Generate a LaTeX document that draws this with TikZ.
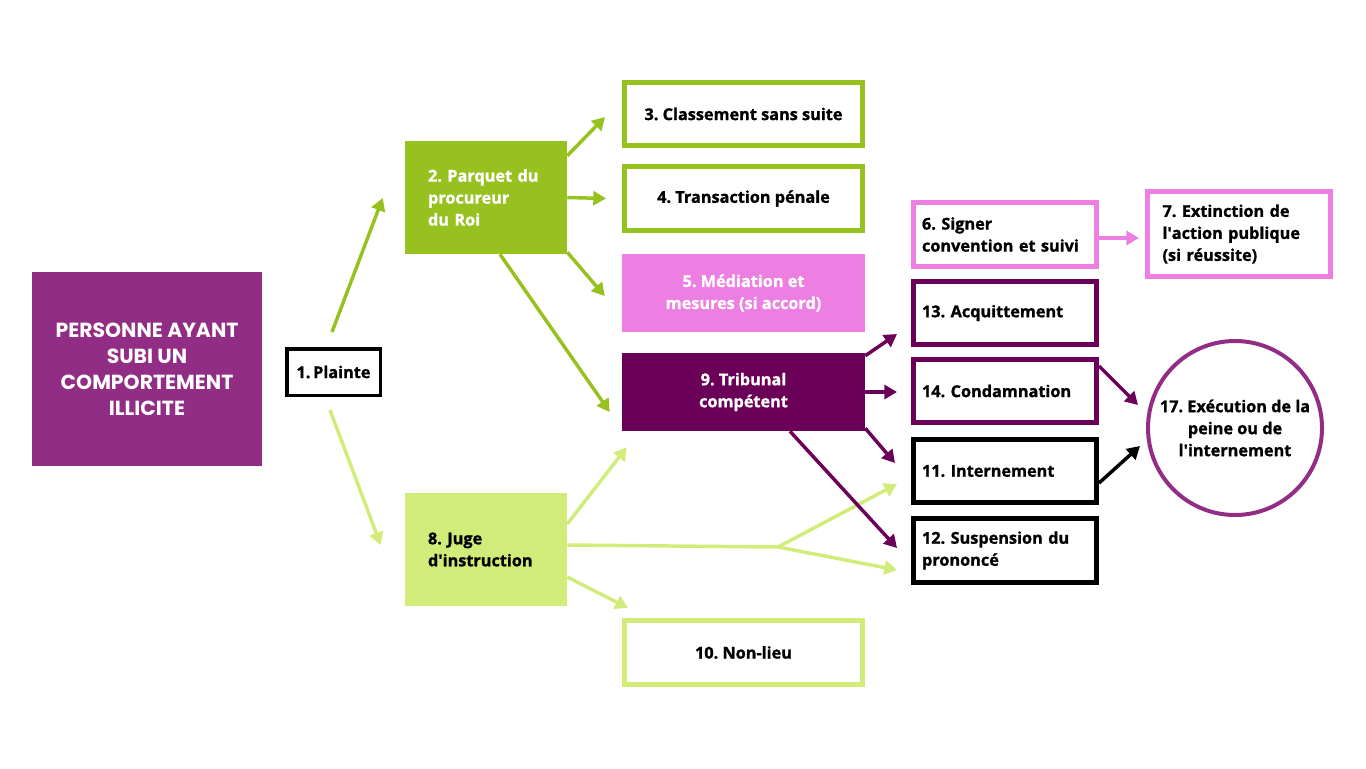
\documentclass[tikz,border=0pt]{standalone}
\usepackage{fontspec}
\setmainfont{Open Sans}[BoldFont={Open Sans Bold}, BoldFeatures={FakeBold=1.2}]
\newfontfamily\titlefont{Poppins}
\usetikzlibrary{arrows.meta,calc,positioning}
\newlength\px
\setlength\px{0.75pt}
\frenchspacing
\definecolor{titlepurple}{HTML}{922D86}
\definecolor{pgreen}{HTML}{97C11F}
\definecolor{lgreen}{HTML}{D2EC7A}
\definecolor{ppink}{HTML}{EE7FE2}
\definecolor{dpurple}{HTML}{6A0057}
\tikzset{
  x=0.75pt, y=-0.75pt,
  txt/.style={font=\bfseries\fontsize{12.2}{16.5}\selectfont},
  bigbox/.style={txt, minimum width=243\px, minimum height=68\px, inner sep=0pt, align=center},
  sidebox/.style={txt, text width=166\px, inner xsep=8.5\px, inner ysep=0pt, minimum height=68\px, align=left},
  arr/.style={line width=2.6pt, -{Triangle[length=9.5pt,width=10.5pt]}},
}
\begin{document}
\begin{tikzpicture}
\useasboundingbox (0,0) rectangle (1366,768);
% nodes
\node[fill=titlepurple, minimum width=230\px, minimum height=194\px, text=white, align=center,
  font=\titlefont\bfseries\fontsize{15.3}{19.5}\selectfont] (pers) at (147,369)
  {PERSONNE AYANT\\SUBI UN\\COMPORTEMENT\\ILLICITE};
\node[txt, draw=black, line width=3.5\px, minimum width=93.5\px, minimum height=46.5\px, inner sep=0pt] (plainte) at (333.5,372) {1.\,Plainte};
\node[txt, fill=pgreen, text=white, text width=116\px, inner xsep=23\px, minimum height=113\px, align=left] (parq) at (486,197.5) {2. Parquet du\\procureur\\du Roi};
\node[bigbox, draw=pgreen, line width=5\px, minimum width=238\px, minimum height=63\px] (b3) at (743.5,114) {3. Classement sans suite};
\node[bigbox, draw=pgreen, line width=5\px, minimum width=238\px, minimum height=64\px] (b4) at (743.5,198.5) {4. Transaction pénale};
\node[bigbox, fill=ppink, text=white, minimum height=78\px] (b5) at (743.5,293) {5. Médiation et\\mesures (si accord)};
\node[bigbox, fill=dpurple, text=white, minimum height=78\px] (b9) at (743.5,392) {9. Tribunal\\compétent};
\node[txt, fill=lgreen, text=black, text width=116\px, inner xsep=23\px, minimum height=113\px, align=left] (juge) at (486,549.5) {8. Juge\\d\textquotesingle instruction};
\node[bigbox, draw=lgreen, line width=5\px, minimum width=238\px, minimum height=64\px] (b10) at (743.5,652.5) {10. Non-lieu};
\node[sidebox, draw=ppink, line width=5\px, minimum height=64\px] (b6) at (1005,234.5) {6. Signer\\convention et suivi};
\node[sidebox, draw=ppink, line width=5\px, text width=153\px, inner xsep=15\px, minimum height=85\px] (b7) at (1239,234) {7. Extinction de\\l\textquotesingle action publique\\(si réussite)};
\node[sidebox, draw=dpurple, line width=5\px, minimum height=63\px] (b13) at (1005,313) {13. Acquittement};
\node[sidebox, draw=dpurple, line width=5\px, minimum height=63\px] (b14) at (1005,391) {14. Condamnation};
\node[sidebox, draw=black, line width=5\px, minimum height=63\px] (b11) at (1005,471) {11. Internement};
\node[sidebox, draw=black, line width=5\px, minimum height=64\px] (b12) at (1005,550.5) {12. Suspension du\\prononcé};
\node[txt, circle, draw=titlepurple, line width=4\px, minimum size=174\px, inner sep=0pt, align=center] (c17) at (1235,428) {17. Exécution de la\\peine ou de\\l\textquotesingle internement};
% connectors
\draw[arr, pgreen] ($(plainte.north)+(-1.5,-15)$) -- ($(parq.west)+(-22,0.5)$);
\draw[arr, lgreen] ($(plainte.south)+(-3.5,13)$) -- ($(juge.west)+(-24,-4.5)$);
\draw[arr, pgreen] ($(parq.north east)+(0,15)$) -- ($(b3.west)+(-17,3)$);
\draw[arr, pgreen] (parq.east) -- ($(b4.west)+(-16,0)$);
\draw[arr, pgreen] ($(parq.south east)+(0,-2)$) -- ($(b5.west)+(-17,3)$);
\draw[arr, pgreen] ($(parq.south)+(14,0)$) -- ($(b9.west)+(-12,20)$);
\draw[arr, lgreen] ($(juge.east)+(0,-25.5)$) -- ($(b9.south west)+(5,16)$);
\coordinate (split) at (778,547);
\draw[line width=2.6pt, lgreen] ($(juge.east)+(0,-4.5)$) -- (split);
\draw[arr, lgreen] (split) -- ($(b11.west)+(-14,13)$);
\draw[arr, lgreen] (split) -- ($(b12.west)+(-14,19.5)$);
\draw[arr, lgreen] ($(juge.east)+(0,27.5)$) -- ($(b10.north west)+(6,-10)$);
\draw[arr, dpurple] ($(b9.north east)+(0,3)$) -- ($(b13.west)+(-14,21)$);
\draw[arr, dpurple] (b9.east) -- ($(b14.west)+(-14,1)$);
\draw[arr, dpurple] ($(b9.south east)+(0,-3)$) -- ($(b11.west)+(-16,-8)$);
\draw[arr, dpurple] ($(b9.south)+(46.5,0)$) -- ($(b12.west)+(-14,-2.5)$);
\draw[arr, ppink] ($(b6.east)+(0,3.5)$) -- ($(b7.west)+(-6,4)$);
\draw[arr, dpurple] ($(b14.north east)+(0,9)$) -- ($(c17.west)+(-8,-23)$);
\draw[arr, black] ($(b11.east)+(0,12)$) -- ($(c17.west)+(-6,18)$);
\end{tikzpicture}
\end{document}
